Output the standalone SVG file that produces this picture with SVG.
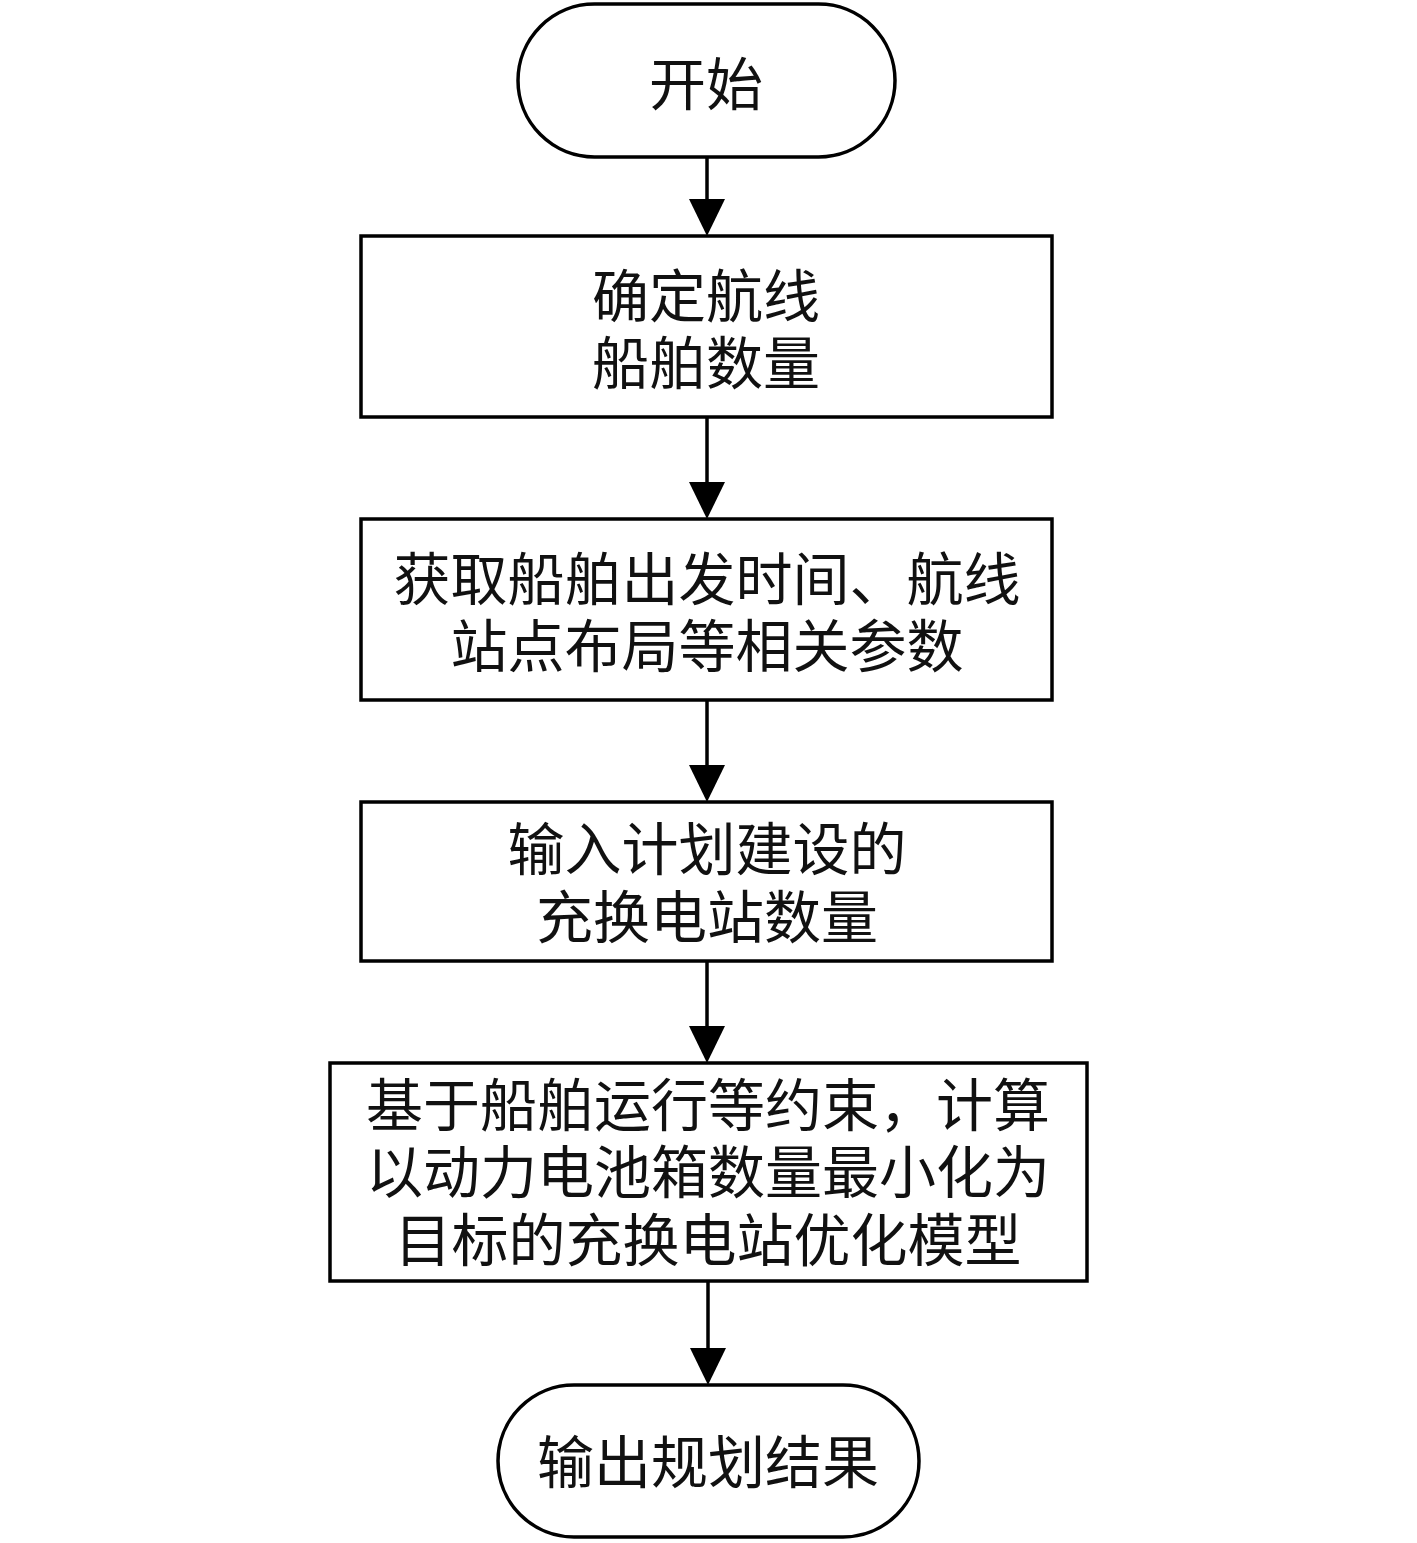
<svg xmlns="http://www.w3.org/2000/svg" width="1417" height="1543" viewBox="0 0 1417 1543">
<defs>
<style>
.n{fill:#fff;stroke:#000;stroke-width:3.5}
.t{font-family:"Noto Sans CJK SC","Liberation Serif",serif;font-size:57px;fill:#111;text-anchor:middle;dominant-baseline:central}
.c{stroke:#000;stroke-width:3.5;fill:none}
.a{fill:#000}
</style>
</defs>
<rect width="1417" height="1543" fill="#fff"/>
<g id="connectors">
<line class="c" x1="707" y1="157" x2="707" y2="205"/>
<polygon class="a" points="689,199 725,199 707,236"/>
<line class="c" x1="707" y1="417" x2="707" y2="488"/>
<polygon class="a" points="689,482 725,482 707,519"/>
<line class="c" x1="707" y1="700" x2="707" y2="771"/>
<polygon class="a" points="689,765 725,765 707,802"/>
<line class="c" x1="707" y1="961" x2="707" y2="1032"/>
<polygon class="a" points="689,1026 725,1026 707,1063"/>
<line class="c" x1="708" y1="1281" x2="708" y2="1354"/>
<polygon class="a" points="690,1348 726,1348 708,1385"/>
</g>
<g id="start">
<rect class="n" x="518" y="4" width="377" height="153" rx="76.5"/>
<text class="t" x="706" y="80">开始</text>
</g>
<g id="step1">
<rect class="n" x="361" y="236" width="691" height="181"/>
<text class="t" x="706" y="292">确定航线</text>
<text class="t" x="706" y="359">船舶数量</text>
</g>
<g id="step2">
<rect class="n" x="361" y="519" width="691" height="181"/>
<text class="t" x="707" y="575">获取船舶出发时间、航线</text>
<text class="t" x="707" y="642">站点布局等相关参数</text>
</g>
<g id="step3">
<rect class="n" x="361" y="802" width="691" height="159"/>
<text class="t" x="707" y="845">输入计划建设的</text>
<text class="t" x="707" y="913">充换电站数量</text>
</g>
<g id="step4">
<rect class="n" x="330" y="1063" width="757" height="218"/>
<text class="t" x="708" y="1101">基于船舶运行等约束，计算</text>
<text class="t" x="708" y="1168">以动力电池箱数量最小化为</text>
<text class="t" x="708" y="1236">目标的充换电站优化模型</text>
</g>
<g id="end">
<rect class="n" x="498" y="1385" width="421" height="152" rx="76"/>
<text class="t" x="708" y="1458">输出规划结果</text>
</g>
</svg>
